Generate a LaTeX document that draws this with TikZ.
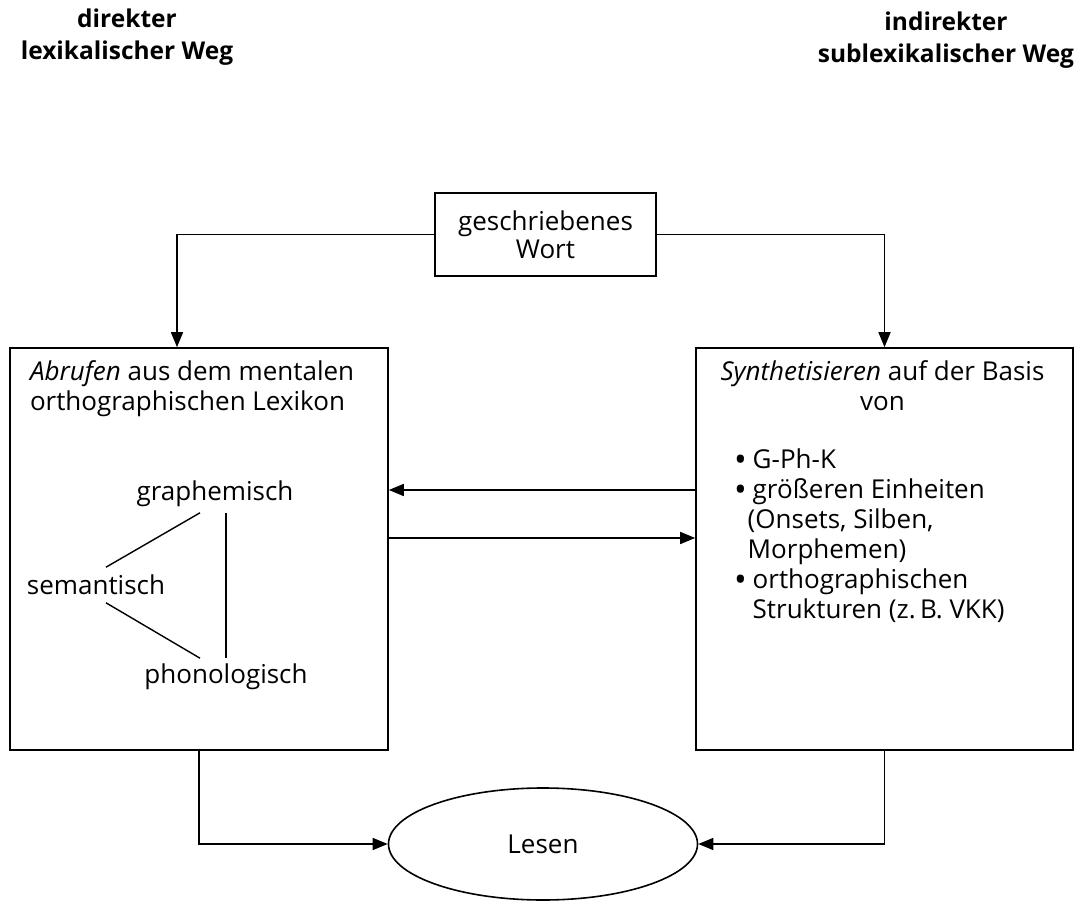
\documentclass[tikz,border=0pt]{standalone}
\usepackage{fontspec}
\setmainfont{Open Sans}
\usetikzlibrary{arrows.meta,positioning,shapes.geometric}
\newcommand{\blt}{\smash{\raisebox{-0.12em}{\scalebox{1.3}{\textbullet}}}}

\begin{document}
\begin{tikzpicture}[
  x=1pt,y=-1pt,
  >={Triangle[length=15pt,width=12pt]},
  line width=1.6pt,
  every node/.style={font=\fontsize{26}{30}\selectfont},
  box/.style={draw,line width=1.6pt,inner sep=0pt},
  txt/.style={inner sep=0pt,align=left},
  head/.style={align=center,font=\fontsize{24.5}{32}\selectfont\bfseries},
  tri/.style={line width=1.4pt},
]
  \useasboundingbox (0,0) rectangle (1079,901);

  % headings
  \node[head] (hleft)  at (127,37) {direkter\\lexikalischer Weg};
  \node[head] (hright) at (946,40) {indirekter\\sublexikalischer Weg};

  % boxes
  \node[box,minimum width=221pt,minimum height=83pt,align=center,
        font=\fontsize{26}{28}\selectfont] (wort) at (545.5,234.5) {geschriebenes\\Wort};
  \node[box,minimum width=378pt,minimum height=402pt] (abruf) at (199,549) {};
  \node[box,minimum width=377pt,minimum height=402pt] (synth) at (884.5,549) {};
  \node[draw,ellipse,line width=1.6pt,minimum width=309pt,minimum height=112pt] (lesen) at (543,844) {Lesen};

  % left box content
  \node[txt,anchor=north west] (abtext) at ([shift={(20pt,-13pt)}]abruf.north west)
    {\emph{Abrufen} aus dem mentalen\\orthographischen Lexikon};
  \node[txt] (graph) at (215,494) {graphemisch};
  \node[txt] (sem)   at (96,585)  {semantisch};
  \node[txt] (phon)  at (226,677) {phonologisch};
  \draw[tri] ([xshift=-15pt,yshift=-5pt]graph.south) -- ([xshift=10pt,yshift=7pt]sem.north);
  \draw[tri] ([xshift=10pt,yshift=-7pt]sem.south) -- ([xshift=-26pt,yshift=5pt]phon.north);
  \draw[tri] ([yshift=-5pt]graph.south -| phon.north) -- ([yshift=5pt]phon.north);

  % right box content
  \node[txt,align=center,anchor=north] (syntext) at ([shift={(-2pt,-13pt)}]synth.north)
    {\emph{Synthetisieren} auf der Basis\\von};
  \node[txt,anchor=north west] (liste) at ([shift={(38pt,-99pt)}]synth.north west)
    {\begin{tabular}{@{}l@{\hspace{6pt}}l@{}}
       \blt & G-Ph-K\\
       \blt & größeren Einheiten\\
            & \hspace{-5pt}(Onsets, Silben,\\
            & \hspace{-5pt}Morphemen)\\
       \blt & orthographischen\\
            & Strukturen (z.\,B. VKK)
     \end{tabular}};

  % connectors
  \draw[->] (wort.west) -| ([xshift=-22pt]abruf.north);
  \draw[->] (wort.east) -| (synth.north);
  \draw[->] ([yshift=59pt]synth.west) -- ([yshift=59pt]abruf.east);
  \draw[->] ([yshift=11pt]abruf.east) -- ([yshift=11pt]synth.west);
  \draw[->] (abruf.south) |- (lesen.west);
  \draw[->] (synth.south) |- (lesen.east);
\end{tikzpicture}
\end{document}
